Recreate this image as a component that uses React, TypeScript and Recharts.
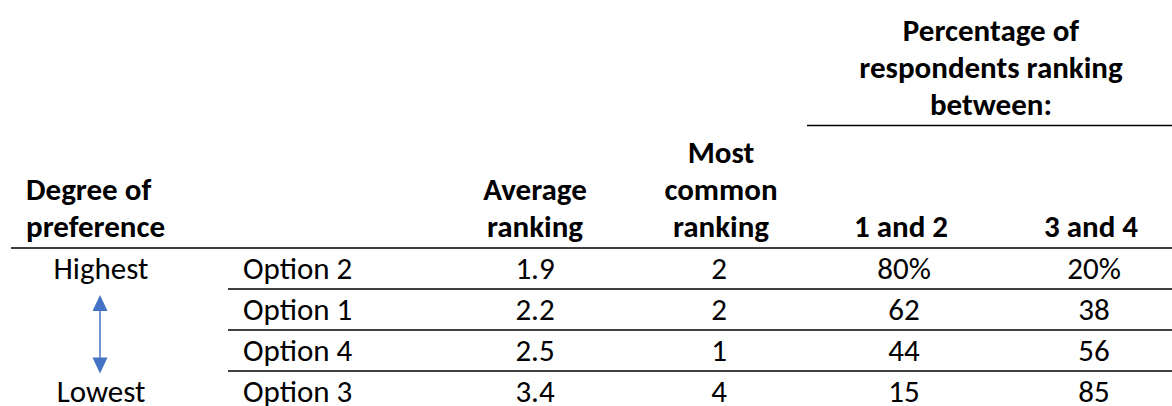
import React from "react";
import { ScatterChart, Scatter, XAxis, YAxis, ReferenceLine, Customized, LabelList } from "recharts";

// ---- data ----
const options = ["Option 2", "Option 1", "Option 4", "Option 3"];
const degreeLabels = ["Highest", "", "", "Lowest"];
const averageRanking = ["1.9", "2.2", "2.5", "3.4"];
const mostCommonRanking = ["2", "2", "1", "4"];
const pctRank1and2 = ["80%", "62", "44", "15"];
const pctRank3and4 = ["20%", "38", "56", "85"];

const headerDegree = ["Degree of", "preference"];
const headerAverage = ["Average", "ranking"];
const headerMostCommon = ["Most", "common", "ranking"];
const headerPctGroup = ["Percentage of", "respondents ranking", "between:"];
const header1and2 = ["1 and 2"];
const header3and4 = ["3 and 4"];

// ---- layout ----
const W = 1172;
const H = 420;
const FONT = "Carlito, Lato, 'Open Sans', sans-serif";
const FS = 31;
const LINE_H = 37;
const BASE_OFF = 10.5;
const ARROW = "#4472C4";

type Row = {
  option: string;
  degree: string;
  avg: string;
  most: string;
  p12: string;
  p34: string;
};

const rows: Row[] = options.map((option, i) => ({
  option,
  degree: degreeLabels[i],
  avg: averageRanking[i],
  most: mostCommonRanking[i],
  p12: pctRank1and2[i],
  p34: pctRank3and4[i],
}));

const columns: { key: keyof Row; x: number; anchor: "start" | "middle" | "end" }[] = [
  { key: "degree", x: 101, anchor: "middle" },
  { key: "option", x: 243, anchor: "start" },
  { key: "avg", x: 535, anchor: "middle" },
  { key: "most", x: 719, anchor: "middle" },
  { key: "p12", x: 904, anchor: "middle" },
  { key: "p34", x: 1094, anchor: "middle" },
];

const headerBlocks: { lines: string[]; x: number; anchor: "start" | "middle"; lastBaseline: number }[] = [
  { lines: headerDegree, x: 26, anchor: "start", lastBaseline: 237 },
  { lines: headerAverage, x: 535, anchor: "middle", lastBaseline: 237 },
  { lines: headerMostCommon, x: 721, anchor: "middle", lastBaseline: 237 },
  { lines: header1and2, x: 901, anchor: "middle", lastBaseline: 237 },
  { lines: header3and4, x: 1091, anchor: "middle", lastBaseline: 237 },
  { lines: headerPctGroup, x: 991, anchor: "middle", lastBaseline: 115 },
];

const Header = () => (
  <g>
    {headerBlocks.map((b, bi) =>
      b.lines.map((ln, li) => (
        <text
          key={`${bi}-${li}`}
          x={b.x}
          y={b.lastBaseline - (b.lines.length - 1 - li) * LINE_H}
          textAnchor={b.anchor}
          fontFamily={FONT}
          fontSize={FS}
          fontWeight={700}
          fill="#000"
        >
          {ln}
        </text>
      ))
    )}
    <line x1={807} x2={W} y1={125.5} y2={125.5} stroke="#000" strokeWidth={1.5} />
    {/* double-headed arrow */}
    <line x1={100} x2={100} y1={308} y2={360} stroke={ARROW} strokeWidth={1.5} />
    <polygon points="100,295 92.5,311 107.5,311" fill={ARROW} />
    <polygon points="100,373.5 92.5,357.5 107.5,357.5" fill={ARROW} />
  </g>
);

const makeLabel = (anchor: string) => (props: any) => {
  const { x, y, width, height, value } = props;
  if (value === undefined || value === null || value === "") return null;
  const cx = (x ?? 0) + (width ?? 0) / 2;
  const cy = (y ?? 0) + (height ?? 0) / 2;
  return (
    <text
      x={cx}
      y={cy + BASE_OFF}
      textAnchor={anchor}
      fontFamily={FONT}
      fontSize={FS}
      fill="#000"
    >
      {value}
    </text>
  );
};

export default function App() {
  return (
    <div style={{ position: "absolute", left: 0, top: 0, width: W, height: 406, overflow: "hidden", background: "#fff" }}>
      <ScatterChart width={W} height={H} margin={{ top: 248, right: 0, bottom: 8, left: 0 }}>
        <XAxis type="number" dataKey="x" domain={[0, W]} hide allowDataOverflow />
        <YAxis type="category" dataKey="option" scale="band" allowDuplicatedCategory={false} hide reversed />
        <ReferenceLine
          segment={[{ x: 11, y: options[0] }, { x: W, y: options[0] }]}
          position="start"
          stroke="#000"
          strokeWidth={1.5}
          ifOverflow="visible"
        />
        {options.slice(1).map((o) => (
          <ReferenceLine
            key={o}
            segment={[{ x: 228, y: o }, { x: W, y: o }]}
            position="start"
            stroke="#000"
            strokeWidth={1.5}
            ifOverflow="visible"
          />
        ))}
        {columns.map((c) => (
          <Scatter
            key={c.key}
            data={rows.map((r) => ({ ...r, x: c.x }))}
            fill="none"
            stroke="none"
            isAnimationActive={false}
          >
            <LabelList dataKey={c.key} content={makeLabel(c.anchor)} />
          </Scatter>
        ))}
        <Customized component={Header} />
      </ScatterChart>
    </div>
  );
}
